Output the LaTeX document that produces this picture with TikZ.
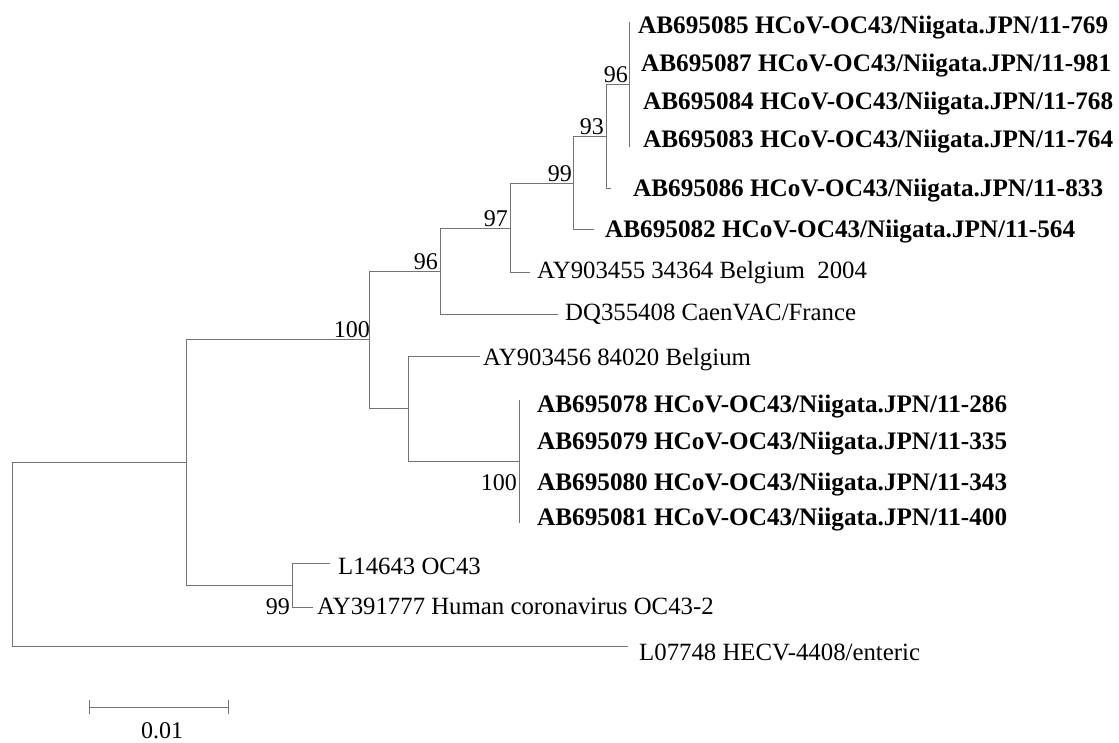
\documentclass[tikz,border=0pt]{standalone}
\usepackage{fontspec}
\setmainfont{Liberation Serif}
\tikzset{
  br/.style={draw=black!55, line width=1pt},
  leafb/.style={anchor=base west, inner sep=0pt, font=\fontsize{25.2}{28}\selectfont\bfseries},
  leafr/.style={anchor=base west, inner sep=0pt, font=\fontsize{24.8}{28}\selectfont},
  boot/.style={anchor=base east, inner sep=0pt, font=\fontsize{24}{26}\selectfont},
}
\begin{document}
\begin{tikzpicture}[x=1pt,y=-1pt]
\useasboundingbox (0,0) rectangle (1119,742);
% internal nodes
\coordinate (r)  at (12,554);
\coordinate (n1) at (186,462);
\coordinate (n2) at (369,339);
\coordinate (n3) at (440,271);
\coordinate (n4) at (510,228);
\coordinate (n5) at (573,183);
\coordinate (n6) at (606,136);
\coordinate (nA) at (629,84);
\coordinate (nAt) at (629,22);
\coordinate (nAb) at (629,147);
\coordinate (n7) at (408,408);
\coordinate (n8) at (519,461);
\coordinate (n8t) at (519,400);
\coordinate (n8b) at (519,523);
\coordinate (n9) at (292,585);
% tips
\coordinate (tL07748) at (628,646);
\coordinate (tDQ) at (558,314);
\coordinate (tAY55) at (530,272);
\coordinate (tAB82) at (594,229);
\coordinate (tAB86) at (611,188);
\coordinate (tAY56) at (480,356);
\coordinate (tL14) at (330,563);
\coordinate (tAY39) at (313,607);
% branches
\draw[br] (r) |- (n1);
\draw[br] (r) |- (tL07748);
\draw[br] (n1) |- (n2);
\draw[br] (n1) |- (n9);
\draw[br] (n2) |- (n3);
\draw[br] (n2) |- (n7);
\draw[br] (n3) |- (n4);
\draw[br] (n3) |- (tDQ);
\draw[br] (n4) |- (n5);
\draw[br] (n4) |- (tAY55);
\draw[br] (n5) |- (n6);
\draw[br] (n5) |- (tAB82);
\draw[br] (n6) |- (nA);
\draw[br] (n6) |- (tAB86);
\draw[br] (nAt) -- (nAb);
\draw[br] (n7) |- (tAY56);
\draw[br] (n7) |- (n8);
\draw[br] (n8t) -- (n8b);
\draw[br] (n9) |- (tL14);
\draw[br] (n9) |- (tAY39);
% leaf labels
\node[leafb] (l85) at (638,33) {AB695085 HCoV-OC43/Niigata.JPN/11-769};
\node[leafb] (l87) at (641,71) {AB695087 HCoV-OC43/Niigata.JPN/11-981};
\node[leafb] (l84) at (643,109) {AB695084 HCoV-OC43/Niigata.JPN/11-768};
\node[leafb] (l83) at (643,147) {AB695083 HCoV-OC43/Niigata.JPN/11-764};
\node[leafb] (l86) at (633,196) {AB695086 HCoV-OC43/Niigata.JPN/11-833};
\node[leafb] (l82) at (605,237) {AB695082 HCoV-OC43/Niigata.JPN/11-564};
\node[leafr] (lAY55) at (537,278) {AY903455 34364 Belgium\ \ 2004};
\node[leafr] (lDQ) at (565,320) {DQ355408 CaenVAC/France};
\node[leafr] (lAY56) at (483,365) {AY903456 84020 Belgium};
\node[leafb] (l78) at (537,412) {AB695078 HCoV-OC43/Niigata.JPN/11-286};
\node[leafb] (l79) at (537,449) {AB695079 HCoV-OC43/Niigata.JPN/11-335};
\node[leafb] (l80) at (537,490) {AB695080 HCoV-OC43/Niigata.JPN/11-343};
\node[leafb] (l81) at (537,525) {AB695081 HCoV-OC43/Niigata.JPN/11-400};
\node[leafr] (lL14) at (338,574) {L14643 OC43};
\node[leafr] (lAY39) at (317,614) {AY391777 Human coronavirus\ OC43-2};
\node[leafr] (lL07) at (639,660) {L07748 HECV-4408/enteric};
% bootstrap values
\node[boot] (bA) at (628,82) {96};
\node[boot] (b6) at (604,134) {93};
\node[boot] (b5) at (572,181) {99};
\node[boot] (b4) at (508,226) {97};
\node[boot] (b3) at (438,269) {96};
\node[boot] (b2) at (370,337) {100};
\node[boot] (b8) at (517,490) {100};
\node[boot] (b9) at (290,614) {99};
% scale bar
\coordinate (sbL) at (89,707);
\coordinate (sbR) at (228,707);
\draw[br] (sbL) -- (sbR);
\draw[br] ([yshift=-7pt]sbL) -- ([yshift=7pt]sbL);
\draw[br] ([yshift=-7pt]sbR) -- ([yshift=7pt]sbR);
\node[inner sep=0pt, font=\fontsize{24}{26}\selectfont] (sbt) at (162,731) {0.01};
\end{tikzpicture}
\end{document}
